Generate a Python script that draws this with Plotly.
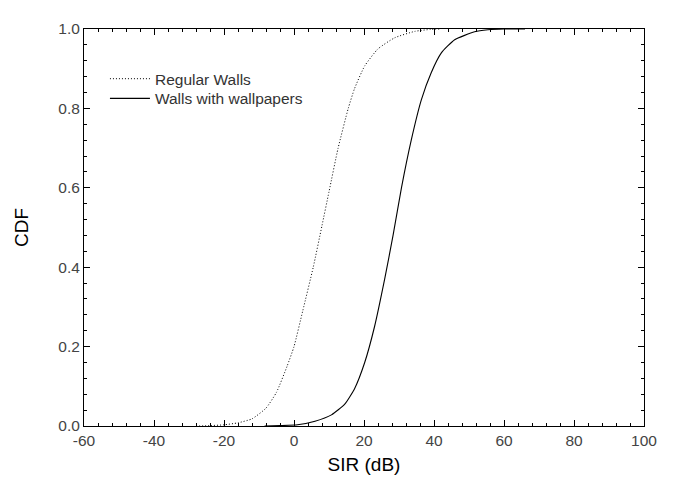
import plotly.graph_objects as go

# Data
regular_x = [-28, -24, -20, -16, -12, -8, -5, -2, 0, 2.5, 5.5, 8.0, 10.0, 12.6, 15.5, 17.3, 20.2, 24.0, 28.8, 34.5, 39.0, 42.0]
regular_cdf = [0.0, 0.001, 0.003, 0.008, 0.018, 0.045, 0.085, 0.15, 0.2, 0.29, 0.4, 0.505, 0.59, 0.7, 0.8, 0.85, 0.907, 0.95, 0.978, 0.994, 0.999, 1.0]

wallpaper_x = [-8.4, -4.0, 1.0, 6.0, 10.7, 14.5, 17.3, 20.2, 23.0, 25.9, 28.3, 30.7, 33.5, 36.4, 39.2, 42.1, 45.9, 51.6, 55.4, 60.0, 66.0]
wallpaper_cdf = [0.0, 0.001, 0.003, 0.012, 0.028, 0.055, 0.094, 0.16, 0.25, 0.37, 0.48, 0.6, 0.72, 0.822, 0.89, 0.94, 0.973, 0.993, 0.998, 1.0, 1.0]

series_names = ["Regular Walls", "Walls with wallpapers"]
x_tickvals = [-60, -40, -20, 0, 20, 40, 60, 80, 100]
y_tickvals = [0.0, 0.2, 0.4, 0.6, 0.8, 1.0]

FONT = "Liberation Sans, Arial, sans-serif"

fig = go.Figure()
fig.add_trace(go.Scatter(x=regular_x, y=regular_cdf, mode="lines", name=series_names[0], legend="legend",
                         line=dict(color="black", width=1, dash="1px,2px", shape="spline", smoothing=0.5)))
fig.add_trace(go.Scatter(x=wallpaper_x, y=wallpaper_cdf, mode="lines", name=series_names[1], legend="legend2",
                         line=dict(color="black", width=1.1, shape="spline", smoothing=0.5)))

axis_common = dict(showgrid=False, zeroline=False, showline=True, linecolor="black", linewidth=1,
                   mirror="allticks", ticks="inside", ticklen=6, tickcolor="black", tickwidth=1,
                   tickfont=dict(family=FONT, size=15.5, color="#444444"))

fig.update_xaxes(range=[-60, 100], tickvals=x_tickvals, ticktext=[str(v) for v in x_tickvals],
                 minor=dict(ticks="inside", ticklen=3, dtick=4, tick0=-60, tickcolor="black"),
                 title=dict(text="SIR (dB)", font=dict(family=FONT, size=19, color="black"), standoff=10),
                 **axis_common)
fig.update_yaxes(range=[0, 1.0], tickvals=y_tickvals, ticktext=[f"{v:.1f}" for v in y_tickvals],
                 minor=dict(ticks="inside", ticklen=3, dtick=0.04, tick0=0, tickcolor="black"),
                 title=dict(text="CDF", font=dict(family=FONT, size=19, color="black"), standoff=24),
                 **axis_common)

legend_common = dict(xanchor="left", yanchor="middle", bgcolor="rgba(0,0,0,0)",
                     font=dict(family=FONT, size=15.5, color="#333333"), itemwidth=40)

fig.update_layout(
    width=675, height=483,
    margin=dict(l=76, r=39, t=14, b=65),
    paper_bgcolor="white", plot_bgcolor="white",
    showlegend=True,
    legend=dict(x=0.0374, y=(418 - 65) / 404, **legend_common),
    legend2=dict(x=0.0374, y=(418 - 85) / 404, **legend_common),
)

fig.write_html("out.html")
